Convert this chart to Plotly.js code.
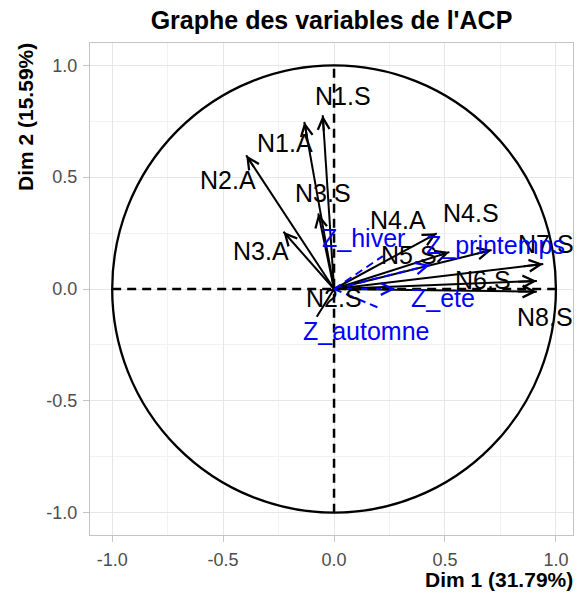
<!DOCTYPE html>
<html>
<head>
<meta charset="utf-8">
<script src="https://cdn.plot.ly/plotly-3.0.1.min.js"></script>
<style>html,body{margin:0;padding:0;background:#fff;}#chart{width:587px;height:596px;}</style>
</head>
<body>
<div id="chart"></div>
<script>
// Active variables: coordinates on Dim 1 / Dim 2
const varNames = ["N1.S", "N1.A", "N2.A", "N3.S", "N3.A", "N2.S", "N4.A", "N4.S", "N5.S", "N6.S", "N7.S", "N8.S"];
const varDim1 = [-0.051, -0.134, -0.396, -0.071, -0.228, -0.078, 0.463, 0.710, 0.520, 0.914, 0.943, 0.914];
const varDim2 = [0.777, 0.747, 0.598, 0.338, 0.256, -0.124, 0.249, 0.174, 0.165, 0.036, 0.112, -0.012];

// Supplementary quantitative variables
const supNames = ["Z_hiver", "Z_printemps", "Z_ete", "Z_automne"];
const supDim1 = [0.220, 0.432, 0.275, 0.203];
const supDim2 = [0.147, 0.107, 0.000, -0.085];

// Axis ticks
const tickValues = [-1.0, -0.5, 0.0, 0.5, 1.0];
const tickLabels = ["-1.0", "-0.5", "0.0", "0.5", "1.0"];

// Label offsets (pixels) from arrow tips, as placed in the reference
const varLabelDx = [20, -19, -18, 5, -22, 17, -39, -21, -40, -54, 3, 8];
const varLabelDy = [19, -21, -25, 20, -19, 19, 13, 37, -3, 1, 20, -25];
const supLabelDx = [-19, 66, 48, -13];
const supLabelDy = [18, 20, -9, -23];

const FONT = "Liberation Sans, Arial, Helvetica, sans-serif";
const traces = [];
const annotations = [];

function addArrow(x, y, color, dash) {
  traces.push({
    type: "scatter", mode: "lines",
    x: [0, x], y: [0, y],
    line: {color: color, width: 2, dash: dash},
    hoverinfo: "skip", showlegend: false
  });
  // open "V" arrow head at the tip
  annotations.push({
    x: x, y: y, xref: "x", yref: "y",
    ax: x * 0.9, ay: y * 0.9, axref: "x", ayref: "y",
    showarrow: true, arrowhead: 5, arrowsize: 1.15, arrowwidth: 2,
    arrowcolor: color, text: ""
  });
}

varNames.forEach((n, i) => {
  addArrow(varDim1[i], varDim2[i], "#000000", "solid");
  annotations.push({x: varDim1[i], y: varDim2[i], xref: "x", yref: "y", text: n,
    showarrow: false, xshift: varLabelDx[i], yshift: varLabelDy[i],
    font: {family: FONT, size: 25, color: "#000000"}});
});
supNames.forEach((n, i) => {
  addArrow(supDim1[i], supDim2[i], "#0000FF", "8px,5px");
  annotations.push({x: supDim1[i], y: supDim2[i], xref: "x", yref: "y", text: n,
    showarrow: false, xshift: supLabelDx[i], yshift: supLabelDy[i],
    font: {family: FONT, size: 25, color: "#0000FF"}});
});

// Axis titles (ggplot-style: x right aligned, y top aligned)
annotations.push({xref: "paper", yref: "paper", x: 1, y: 0, xanchor: "right", yanchor: "middle",
  yshift: -44, xshift: 2, text: "<b>Dim 1 (31.79%)</b>", showarrow: false,
  font: {family: FONT, size: 21, color: "#000000"}});
annotations.push({xref: "paper", yref: "paper", x: 0, y: 1, xanchor: "center", yanchor: "top",
  xshift: -65, yshift: 2, text: "<b>Dim 2 (15.59%)</b>", textangle: -90, showarrow: false,
  font: {family: FONT, size: 21, color: "#000000"}});

const axisCommon = {
  tickvals: tickValues, ticktext: tickLabels,
  showgrid: true, gridcolor: "#E6E6E6", gridwidth: 1,
  minor: {dtick: 0.25, tick0: 0, showgrid: true, gridcolor: "#F2F2F2", gridwidth: 1},
  zeroline: false, showline: true, mirror: true, linecolor: "#C4C4C4", linewidth: 1,
  ticks: "outside", ticklen: 6, tickcolor: "#C4C4C4", tickwidth: 1,
  tickfont: {family: FONT, size: 18, color: "#4D4D4D"}
};

const layout = {
  width: 587, height: 596,
  margin: {l: 90, r: 14, t: 43, b: 61},
  paper_bgcolor: "#FFFFFF", plot_bgcolor: "#FFFFFF",
  title: {text: "<b>Graphe des variables de l'ACP</b>", x: 0.5, xref: "paper",
          y: 1 - 20 / 596, yref: "container", yanchor: "middle",
          font: {family: FONT, size: 25, color: "#000000"}},
  xaxis: Object.assign({}, axisCommon, {range: [-1.1, 1.077], ticklabelstandoff: 2}),
  yaxis: Object.assign({}, axisCommon, {range: [-1.1, 1.1], ticklabelstandoff: 2}),
  shapes: [
    {type: "circle", xref: "x", yref: "y", x0: -1, x1: 1, y0: -1, y1: 1,
     line: {color: "#000000", width: 2.3}, layer: "above"},
    {type: "line", xref: "x", yref: "y", x0: -1, x1: 1, y0: 0, y1: 0,
     line: {color: "#000000", width: 2.5, dash: "9px,6px"}, layer: "above"},
    {type: "line", xref: "x", yref: "y", x0: 0, x1: 0, y0: -1, y1: 1,
     line: {color: "#000000", width: 2.5, dash: "9px,6px"}, layer: "above"}
  ],
  annotations: annotations,
  showlegend: false
};

Plotly.newPlot("chart", traces, layout, {displayModeBar: false, staticPlot: true});
</script>
</body>
</html>
